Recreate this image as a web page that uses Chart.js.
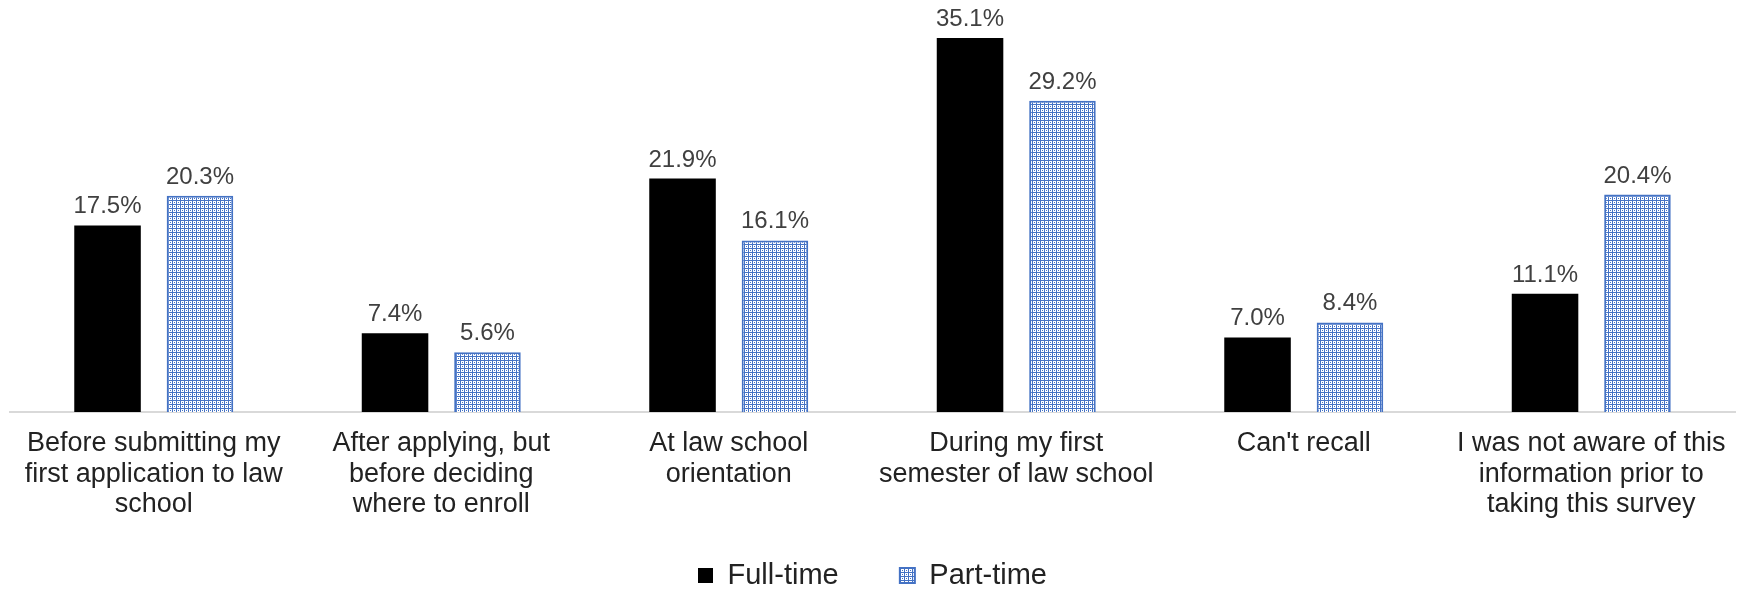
<!DOCTYPE html>
<html>
<head>
<meta charset="utf-8">
<script src="https://cdn.jsdelivr.net/npm/chart.js@4/dist/chart.umd.min.js"></script>
<style>
    html, body { margin: 0; padding: 0; background: #ffffff; }
    #wrap { width: 1749px; height: 593px; }
</style>
</head>
<body>
<div id="wrap"><canvas id="timingChart"></canvas></div>
<script>
const categories = [
    ["Before submitting my", "first application to law", "school"],
    ["After applying, but", "before deciding", "where to enroll"],
    ["At law school", "orientation"],
    ["During my first", "semester of law school"],
    ["Can't recall"],
    ["I was not aware of this", "information prior to", "taking this survey"]
];
const fullTime = [17.5, 7.4, 21.9, 35.1, 7.0, 11.1];
const partTime = [20.3, 5.6, 16.1, 29.2, 8.4, 20.4];
const seriesNames = ["Full-time", "Part-time"];

const FONT = "'Liberation Sans', Arial, sans-serif";
const BLUE = "#4472C4";

// small repeating tile for the part-time hatch
function makePattern() {
    const rows = [
        "1111",
        "1...",
        "1.1.",
        "1..."
    ];
    const c = document.createElement("canvas");
    c.width = 4;
    c.height = 4;
    const cx = c.getContext("2d");
    cx.fillStyle = "#ffffff";
    cx.fillRect(0, 0, 4, 4);
    cx.fillStyle = BLUE;
    rows.forEach((r, y) => {
        for (let x = 0; x < r.length; x++) {
            if (r[x] === "1") cx.fillRect(x, y, 1, 1);
        }
    });
    return cx.createPattern(c, "repeat");
}

const valueLabels = {
    id: "valueLabels",
    afterDatasetsDraw(chart) {
        const ctx = chart.ctx;
        ctx.save();
        ctx.font = "24px " + FONT;
        ctx.fillStyle = "#404040";
        ctx.textAlign = "center";
        ctx.textBaseline = "alphabetic";
        chart.data.datasets.forEach((ds, i) => {
            chart.getDatasetMeta(i).data.forEach((bar, j) => {
                ctx.fillText(ds.data[j].toFixed(1) + "%", bar.x, bar.y - 12);
            });
        });
        ctx.restore();
    }
};

new Chart(document.getElementById("timingChart"), {
    type: "bar",
    data: {
        labels: categories,
        datasets: [{
            label: seriesNames[0],
            data: fullTime,
            backgroundColor: "#000000",
            borderWidth: 0
        }, {
            label: seriesNames[1],
            data: partTime,
            backgroundColor: makePattern(),
            borderColor: BLUE,
            borderWidth: 2
        }]
    },
    options: {
        responsive: true,
        maintainAspectRatio: false,
        animation: false,
        categoryPercentage: 0.643,
        barPercentage: 0.72,
        layout: {
            padding: { top: 7, left: 10, right: 14, bottom: -7 }
        },
        plugins: {
            legend: {
                position: "bottom",
                labels: {
                    color: "#222222",
                    boxWidth: 15,
                    boxHeight: 15,
                    padding: 37,
                    font: { family: FONT, size: 29 },
                    generateLabels(chart) {
                        const items = Chart.defaults.plugins.legend.labels.generateLabels(chart);
                        // a little extra room after the first entry
                        items[0].text = items[0].text + "   ";
                        return items;
                    }
                }
            },
            tooltip: { enabled: false }
        },
        scales: {
            x: {
                grid: { display: false, drawTicks: false },
                border: { display: true, color: "#d9d9d9", width: 2 },
                ticks: {
                    autoSkip: false,
                    maxRotation: 0,
                    padding: 16,
                    color: "#222222",
                    font: { family: FONT, size: 27, lineHeight: 1.14 }
                },
                afterFit(scale) {
                    scale.height = 112;
                }
            },
            y: {
                display: false,
                min: 0,
                max: 38
            }
        }
    },
    plugins: [valueLabels]
});
</script>
</body>
</html>
